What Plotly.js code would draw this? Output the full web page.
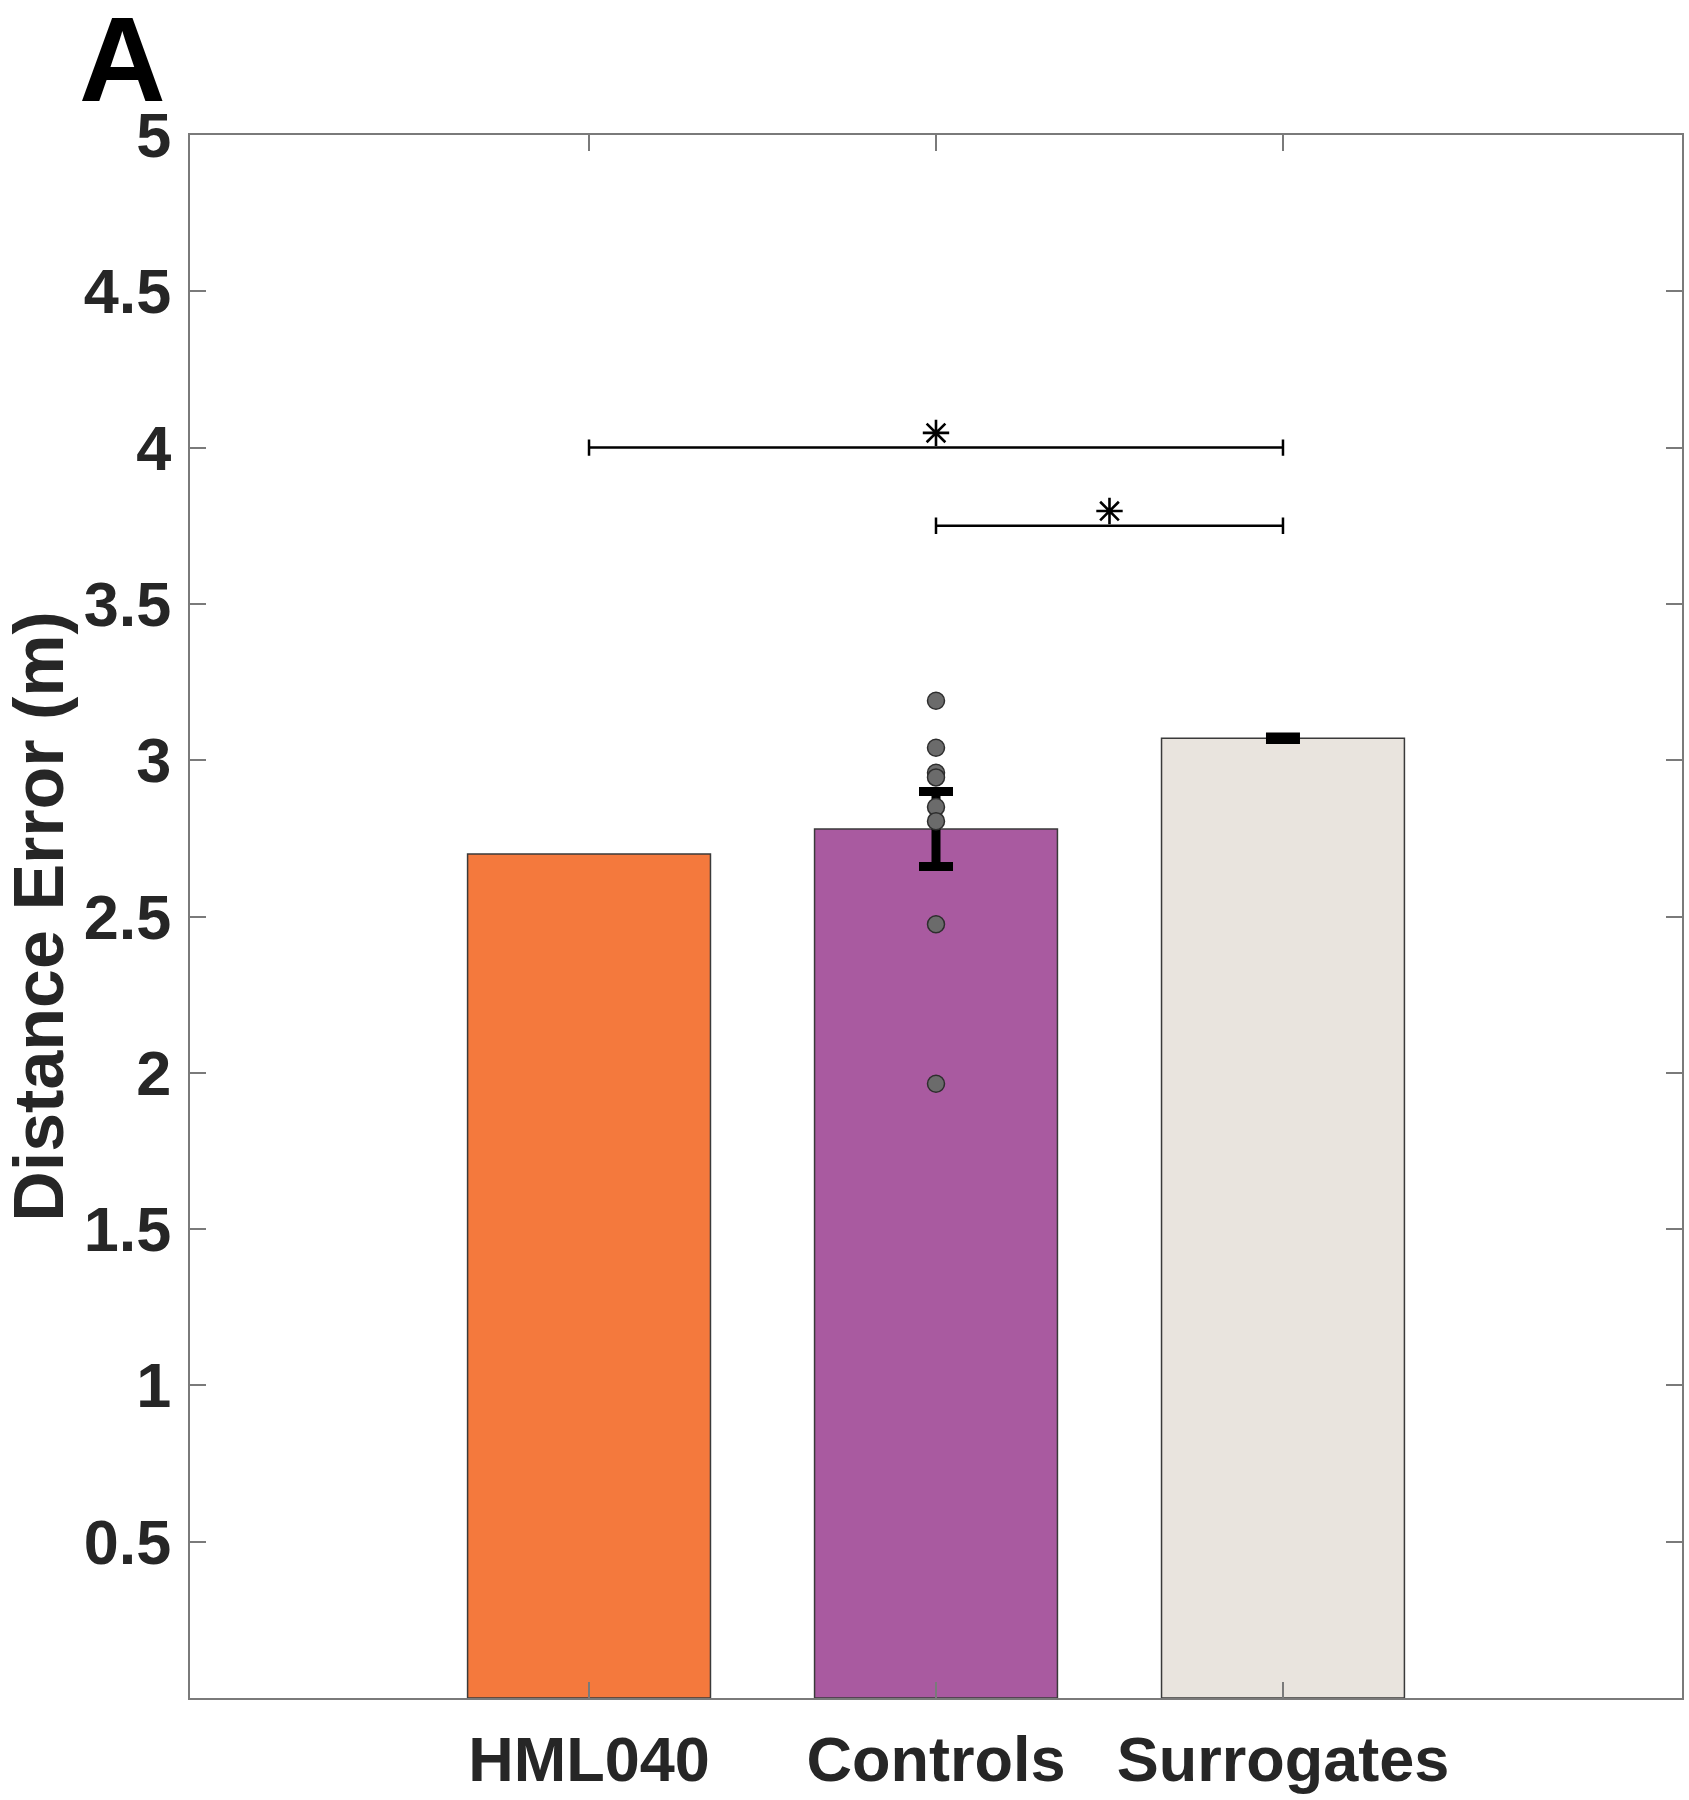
<!DOCTYPE html>
<html>
<head>
<meta charset="utf-8">
<script src="https://cdn.plot.ly/plotly-3.0.1.min.js"></script>
<style>html,body{margin:0;padding:0;background:#fff;}</style>
</head>
<body>
<div id="chart" style="width:1689px;height:1800px;"></div>
<script>
// ---- data ----
const categories = ['HML040', 'Controls', 'Surrogates'];
const meanValues = [2.70, 2.78, 3.07];
const errorValues = [null, 0.12, 0.004];
const barColors = ['#F4793D', '#A95AA0', '#E9E4DE'];
const controlPoints = [3.19, 3.04, 2.96, 2.945, 2.85, 2.805, 2.475, 1.965];
const controlsCategory = 'Controls';
// significance comparisons: [from category, to category, bar height]
const sigFrom = ['HML040', 'Controls'];
const sigTo = ['Surrogates', 'Surrogates'];
const sigHeights = [4.0, 3.75];
const yTickValues = [0.5, 1, 1.5, 2, 2.5, 3, 3.5, 4, 4.5, 5];
const yTickLabels = ['0.5', '1', '1.5', '2', '2.5', '3', '3.5', '4', '4.5', '5'];
const yTitle = 'Distance Error (m)';
const panelLabel = 'A';

// ---- build ----
const pos = c => categories.indexOf(c) + 1;
const xPositions = categories.map(pos);

const traces = [];
traces.push({
  type: 'bar',
  x: xPositions,
  y: meanValues,
  width: 0.7,
  marker: {color: barColors, line: {color: '#3a3a3a', width: 1.5}},
  hoverinfo: 'skip',
  showlegend: false
});
// error bars only where defined
const errIdx = errorValues.map((e, i) => e == null ? -1 : i).filter(i => i >= 0);
traces.push({
  type: 'scatter', mode: 'markers',
  x: errIdx.map(i => xPositions[i]),
  y: errIdx.map(i => meanValues[i]),
  marker: {size: 1, color: 'rgba(0,0,0,0)'},
  error_y: {type: 'data', array: errIdx.map(i => errorValues[i]), visible: true, color: '#000', thickness: 9, width: 17},
  showlegend: false, hoverinfo: 'skip'
});
traces.push({
  type: 'scatter',
  mode: 'markers',
  x: controlPoints.map(() => pos(controlsCategory)),
  y: controlPoints,
  marker: {color: '#6b6b6b', size: 17, line: {color: '#2e2e2e', width: 1.5}},
  showlegend: false,
  hoverinfo: 'skip'
});
const tickHalf = 0.026;
sigHeights.forEach((h, i) => {
  const x1 = pos(sigFrom[i]), x2 = pos(sigTo[i]);
  traces.push({
    type: 'scatter', mode: 'lines',
    x: [x1, x1, x1, x2, x2, x2],
    y: [h - tickHalf, h + tickHalf, h, h, h + tickHalf, h - tickHalf],
    line: {color: '#000', width: 2.5},
    showlegend: false, hoverinfo: 'skip'
  });
  traces.push({
    type: 'scatter', mode: 'markers',
    x: [(x1 + x2) / 2],
    y: [h + 0.047],
    marker: {symbol: 'asterisk-open', size: 22, color: '#000', line: {color: '#000', width: 2.6}},
    showlegend: false, hoverinfo: 'skip'
  });
});

const axisColor = '#7a7a7a';
const fontFam = '"Liberation Sans", Arial, Helvetica, sans-serif';
const layout = {
  width: 1689, height: 1800,
  margin: {l: 190, r: 7, t: 135, b: 102},
  paper_bgcolor: '#fff', plot_bgcolor: '#fff',
  font: {family: fontFam, color: '#262626'},
  bargap: 0,
  xaxis: {
    range: [-0.15, 4.15],
    tickvals: xPositions,
    ticktext: categories,
    ticks: 'inside', ticklen: 16, tickwidth: 2, tickcolor: axisColor,
    showline: true, linecolor: axisColor, linewidth: 2, mirror: 'ticks',
    showgrid: false, zeroline: false,
    tickfont: {family: fontFam, size: 63, color: '#262626', weight: 'bold'},
    ticklabelstandoff: 5
  },
  yaxis: {
    range: [0, 5],
    tickvals: yTickValues,
    ticktext: yTickLabels,
    ticks: 'inside', ticklen: 16, tickwidth: 2, tickcolor: axisColor,
    showline: true, linecolor: axisColor, linewidth: 2, mirror: 'ticks',
    showgrid: false, zeroline: false,
    tickfont: {family: fontFam, size: 63, color: '#262626', weight: 'bold'},
    ticklabelstandoff: 4,
    title: {text: yTitle, font: {family: fontFam, size: 70, color: '#262626', weight: 'bold'}, standoff: 10}
  },
  annotations: [{
    text: panelLabel, xref: 'paper', yref: 'paper',
    x: -0.075, y: 1.092, xanchor: 'left', yanchor: 'top',
    showarrow: false, borderpad: 0,
    font: {family: fontFam, size: 120, color: '#000', weight: 'bold'}
  }]
};
Plotly.newPlot('chart', traces, layout, {staticPlot: true, displayModeBar: false});
</script>
</body>
</html>
